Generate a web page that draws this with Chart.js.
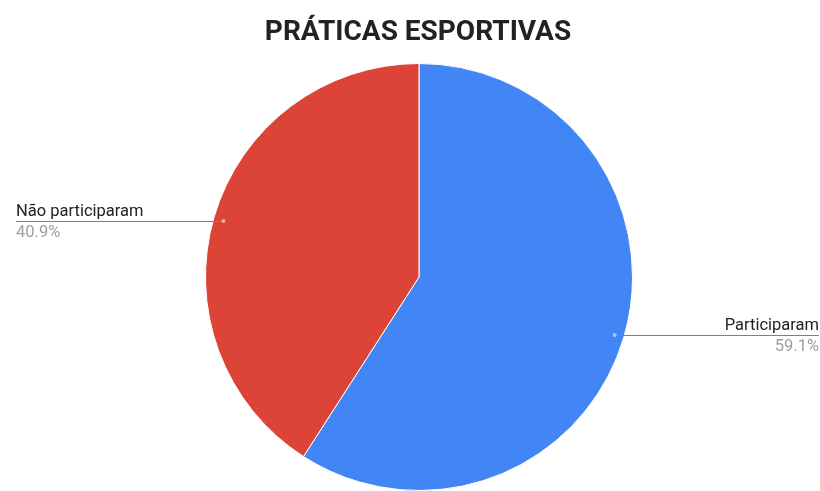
<!DOCTYPE html>
<html>
<head>
<meta charset="utf-8">
<script src="https://cdn.jsdelivr.net/npm/chart.js@4"></script>
<style>
  html, body { margin: 0; padding: 0; background: #fff; }
  #wrap { width: 820px; height: 491px; position: relative; }
</style>
</head>
<body>
<div id="wrap"><canvas id="pie"></canvas></div>
<script>
const labels = ["Participaram", "Não participaram"];
const values = [59.1, 40.9];
const colors = ["#4285f4", "#db4437"];
const chartTitle = "PRÁTICAS ESPORTIVAS";

// title and leader-line labels, Google-style
const sideLabels = {
  id: "sideLabels",
  afterDraw(chart) {
    const c = chart.ctx;
    const w = chart.width;
    c.save();
    c.fillStyle = "#222";
    c.font = "bold 28px Roboto";
    c.textAlign = "center";
    c.textBaseline = "alphabetic";
    c.fillText(chartTitle, 418, 40);

    const meta = chart.getDatasetMeta(0);
    meta.data.forEach((arc, i) => {
      const mid = (arc.startAngle + arc.endAngle) / 2;
      const r = arc.outerRadius * 0.955;
      const px = arc.x + Math.cos(mid) * r;
      const py = arc.y + Math.sin(mid) * r;
      const ly = Math.round(py) + 1;
      const right = Math.cos(mid) >= 0;
      const edge = right ? w - 1 : 16;

      c.strokeStyle = "#808080";
      c.lineWidth = 1;
      c.beginPath();
      c.moveTo(px, ly + 0.5);
      c.lineTo(edge, ly + 0.5);
      c.stroke();

      c.fillStyle = "rgba(255,255,255,0.55)";
      c.beginPath();
      c.arc(px, ly, 2, 0, Math.PI * 2);
      c.fill();

      c.textAlign = right ? "right" : "left";
      c.font = "16.5px Roboto";
      c.fillStyle = "#222";
      c.fillText(labels[i], edge, ly - 5);
      c.fillStyle = "#a0a0a0";
      c.fillText(values[i].toFixed(1) + "%", edge, ly + 16);
    });
    c.restore();
  }
};

new Chart(document.getElementById("pie"), {
  type: "pie",
  data: {
    labels,
    datasets: [{
      data: values,
      backgroundColor: colors,
      borderColor: "#fff",
      borderWidth: 1
    }]
  },
  options: {
    responsive: true,
    maintainAspectRatio: false,
    animation: false,
    layout: { padding: { top: 63, left: 205, right: 187, bottom: 0 } },
    plugins: {
      legend: { display: false },
      tooltip: { enabled: false },
      title: { display: false }
    }
  },
  plugins: [sideLabels]
});
</script>
</body>
</html>
